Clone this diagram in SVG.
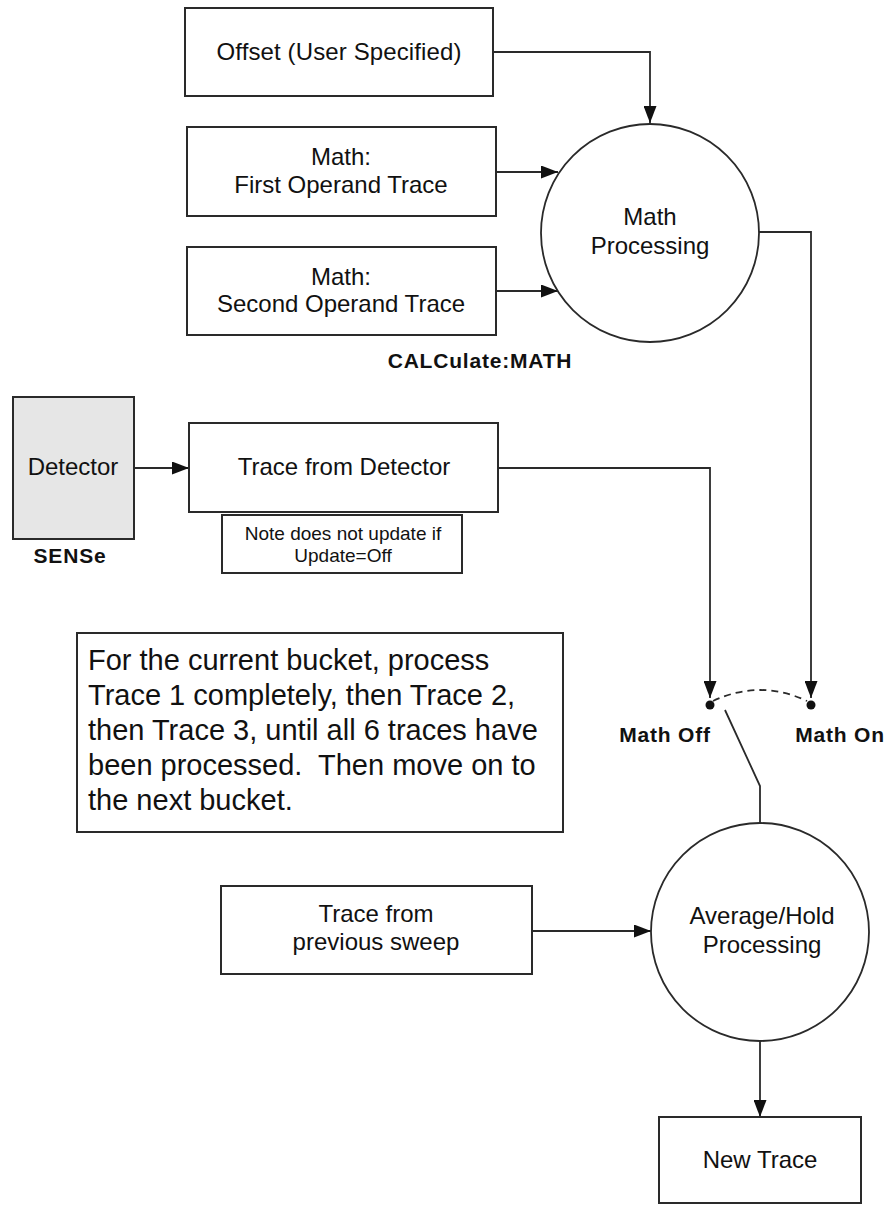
<svg xmlns="http://www.w3.org/2000/svg" width="895" height="1205" viewBox="0 0 895 1205">
<style>
.box{fill:#fff;stroke:#2a2a2a;stroke-width:2}
.gray{fill:#e6e6e6;stroke:#2a2a2a;stroke-width:2}
.circ{fill:#fff;stroke:#2a2a2a;stroke-width:1.8}
.t{font-family:"Liberation Sans",Arial,sans-serif;font-size:24px;fill:#111;text-anchor:middle}
.b{font-family:"Liberation Sans",Arial,sans-serif;font-size:21px;font-weight:bold;fill:#111;text-anchor:middle;letter-spacing:0.8px}
.s{font-family:"Liberation Sans",Arial,sans-serif;font-size:19px;fill:#111;text-anchor:middle}
.big{font-family:"Liberation Sans",Arial,sans-serif;font-size:29px;fill:#111;white-space:pre}
.c{fill:none;stroke:#2a2a2a;stroke-width:1.8}
.d{fill:none;stroke:#2a2a2a;stroke-width:1.8;stroke-dasharray:7 5}
</style>
<defs>
<marker id="ah" markerWidth="17" markerHeight="13" refX="17" refY="6.5" orient="auto" markerUnits="userSpaceOnUse">
<path d="M0,0 L17,6.5 L0,13 z" fill="#111"/>
</marker>
</defs>

<g id="connectors">
<path class="c" d="M493,52 H650 V123" marker-end="url(#ah)"/>
<path class="c" d="M496,172 H558" marker-end="url(#ah)"/>
<path class="c" d="M496,291 H558" marker-end="url(#ah)"/>
<path class="c" d="M759,232 H811 V698" marker-end="url(#ah)"/>
<path class="c" d="M134,468 H189" marker-end="url(#ah)"/>
<path class="c" d="M498,468 H710 V698" marker-end="url(#ah)"/>
<path class="d" d="M713,701 Q760,679 807,701"/>
<circle cx="710" cy="705" r="4.5" fill="#111"/>
<circle cx="811" cy="705" r="4.5" fill="#111"/>
<path class="c" d="M725,710 L760,786 V823"/>
<path class="c" d="M532,931 H651" marker-end="url(#ah)"/>
<path class="c" d="M760,1041 V1117" marker-end="url(#ah)"/>
</g>

<g id="offset">
<rect class="box" x="185" y="8" width="308" height="88"/>
<text class="t" x="339" y="60" textLength="245">Offset (User Specified)</text>
</g>

<g id="first-operand">
<rect class="box" x="187" y="127" width="309" height="89"/>
<text class="t" x="341" y="165">Math:</text>
<text class="t" x="341" y="193">First Operand Trace</text>
</g>

<g id="second-operand">
<rect class="box" x="187" y="247" width="309" height="88"/>
<text class="t" x="341" y="285">Math:</text>
<text class="t" x="341" y="312">Second Operand Trace</text>
</g>

<g id="math-processing">
<circle class="circ" cx="650" cy="233" r="109"/>
<text class="t" x="650" y="225">Math</text>
<text class="t" x="650" y="254">Processing</text>
</g>

<g id="calc-label">
<text class="b" x="480" y="368">CALCulate:MATH</text>
</g>

<g id="detector">
<rect class="gray" x="13" y="397" width="121" height="142"/>
<text class="t" x="73" y="475">Detector</text>
<text class="b" x="70" y="563">SENSe</text>
</g>

<g id="trace-from-detector">
<rect class="box" x="189" y="423" width="309" height="89"/>
<text class="t" x="344" y="475">Trace from Detector</text>
</g>

<g id="note">
<rect class="box" x="222" y="515" width="240" height="58"/>
<text class="s" x="343" y="540">Note does not update if</text>
<text class="s" x="343" y="562">Update=Off</text>
</g>

<g id="bucket-note">
<rect class="box" x="77" y="633" width="486" height="199"/>
<text class="big" x="88" y="670">For the current bucket, process</text>
<text class="big" x="88" y="705">Trace 1 completely, then Trace 2,</text>
<text class="big" x="88" y="740">then Trace 3, until all 6 traces have</text>
<text class="big" x="88" y="775">been processed.&#160; Then move on to</text>
<text class="big" x="88" y="810">the next bucket.</text>
</g>

<g id="math-off">
<text class="b" x="665" y="742">Math Off</text>
</g>
<g id="math-on">
<text class="b" x="840" y="742">Math On</text>
</g>

<g id="previous-sweep">
<rect class="box" x="221" y="886" width="311" height="88"/>
<text class="t" x="376" y="922">Trace from</text>
<text class="t" x="376" y="950">previous sweep</text>
</g>

<g id="average-hold">
<circle class="circ" cx="760" cy="932" r="109"/>
<text class="t" x="762" y="924">Average/Hold</text>
<text class="t" x="762" y="953">Processing</text>
</g>

<g id="new-trace">
<rect class="box" x="659" y="1117" width="202" height="86"/>
<text class="t" x="760" y="1168">New Trace</text>
</g>
</svg>
